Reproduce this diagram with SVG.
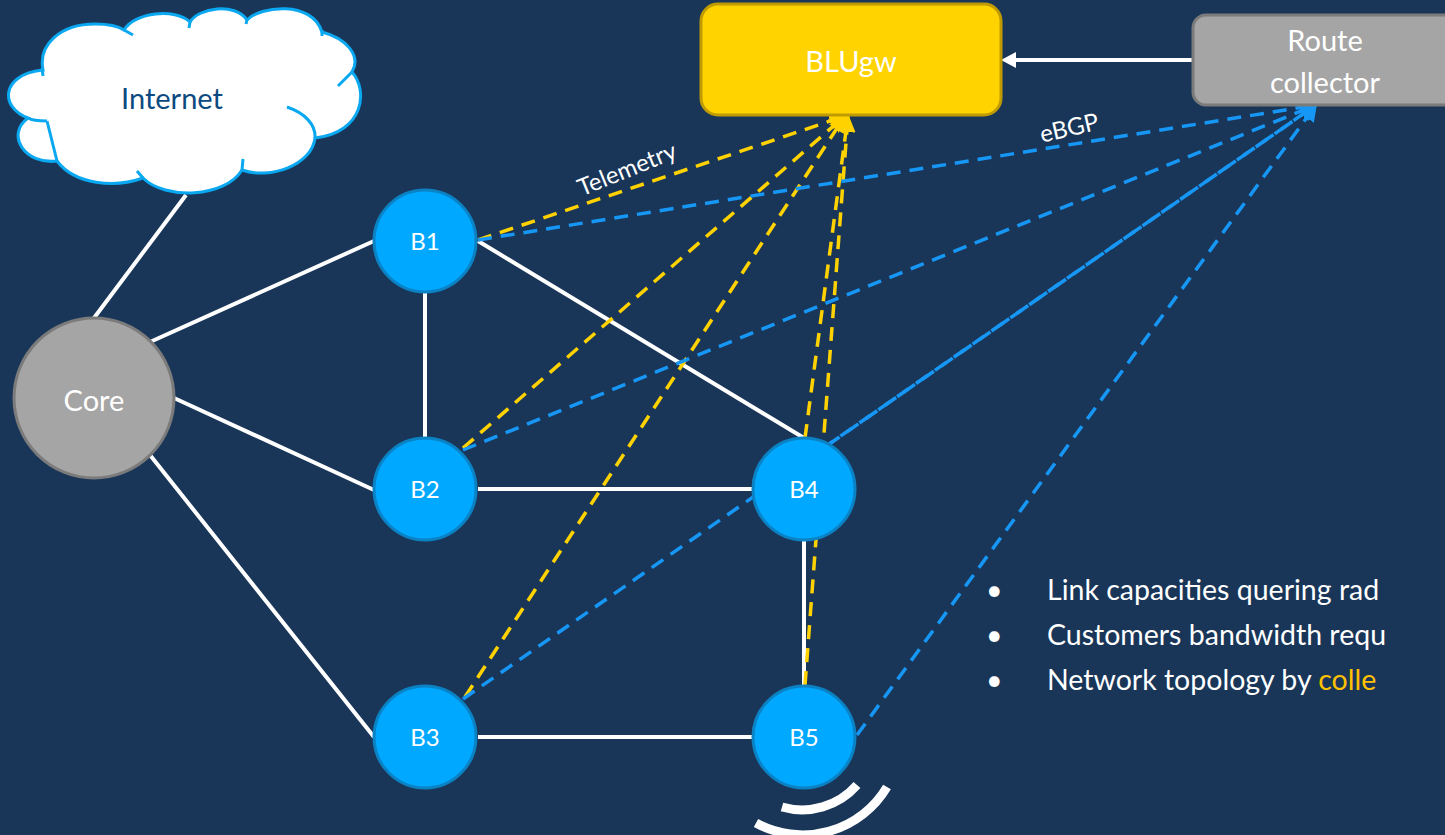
<svg xmlns="http://www.w3.org/2000/svg" width="1445" height="835" viewBox="0 0 1445 835">
<style>
text{font-family:"Lato","Carlito","Liberation Sans",sans-serif;fill:#fff}
.big{font-size:29px;text-anchor:middle}
.b{font-size:24px;text-anchor:middle}
.li{font-size:28.5px}
.w{stroke:#fff;stroke-width:4;fill:none}
.y{stroke:#ffd200;stroke-width:3.5;stroke-dasharray:14 9;fill:none}
.bl{stroke:#1797f5;stroke-width:3.5;stroke-dasharray:14 9;fill:none}
.n{fill:#00a8ff;stroke:#0a82c4;stroke-width:3}
.cl{fill:none;stroke:#0aa8f0;stroke-width:3}
</style>
<defs>
<marker id="ay" viewBox="0 0 10 10" refX="9" refY="5" markerWidth="5" markerHeight="5" orient="auto-start-reverse" markerUnits="strokeWidth"><path d="M0 0L10 5L0 10Z" fill="#ffd200"/></marker>
<marker id="ab" viewBox="0 0 10 10" refX="9" refY="5" markerWidth="5" markerHeight="5" orient="auto-start-reverse" markerUnits="strokeWidth"><path d="M0 0L10 5L0 10Z" fill="#1797f5"/></marker>
<marker id="aw" viewBox="0 0 10 10" refX="9" refY="5" markerWidth="4" markerHeight="4" orient="auto" markerUnits="strokeWidth"><path d="M0 0L10 5L0 10Z" fill="#fff"/></marker>
</defs>
<rect width="1445" height="835" fill="#193659"/>
<g id="connectors">
<path class="w" d="M186 195L94 318M374 241L150 342M374 490L174 398M374 737L150 455M425 292V438M478 241L804 438M478 489H752M478 737H752M804 540V685"/>
<path class="y" marker-end="url(#ay)" d="M478 240L845 116"/>
<path class="y" marker-end="url(#ay)" d="M463 448L845 116"/>
<path class="y" marker-end="url(#ay)" d="M465 697L845 116"/>
<path class="y" marker-end="url(#ay)" d="M805 438L848 116"/>
<path class="y" marker-end="url(#ay)" d="M805 685L848 116"/>
<path class="bl" marker-end="url(#ab)" d="M478 240L1316 105"/>
<path class="bl" marker-end="url(#ab)" d="M463 450L1316 105"/>
<path class="bl" marker-end="url(#ab)" d="M463 699L1316 105"/>
<path class="bl" marker-end="url(#ab)" d="M828 445L1316 105"/>
<path class="bl" marker-end="url(#ab)" d="M857 735L1316 105"/>
<path d="M1193 60H1005" stroke="#fff" stroke-width="4" fill="none"/>
<path d="M1001 60L1016 52V68Z" fill="#fff"/>
</g>
<g id="blugw"><rect x="701" y="4" width="300" height="111" rx="17" fill="#ffd300" stroke="#bf9b00" stroke-width="3"/><text class="big" x="851" y="72">BLUgw</text></g>
<g id="collector"><rect x="1193" y="15" width="270" height="90" rx="13" fill="#a5a5a5" stroke="#7b7b7b" stroke-width="3"/><text class="big" x="1325" y="51">Route</text><text class="big" x="1325" y="93">collector</text></g>
<g id="internet">
<path d="M43 70C38 45 60 24 95 24C108 24 118 26 124 30C135 12 175 8 190 22C198 8 235 2 247 20C260 6 312 0 322 32C345 38 362 55 352 72C368 90 365 132 315 138C312 165 270 180 242 170C225 198 165 200 143 178C115 188 75 185 57 161C25 165 5 135 28 118C0 108 0 75 42 70Z" fill="#fff" stroke="#0aa8f0" stroke-width="3"/>
<path class="cl" d="M42 68L43 76M124 30L133 35M190 22L189 28M247 20L246 24M322 30L322 36M352 72L338 86M287 107C305 113 316 125 315 138M242 170L243 159M143 178L137 171M57 161L47 121M28 118C33 121 40 121 47 121M143 178L137 171"/>
<text class="big" x="172" y="109" style="fill:#0b4a80">Internet</text>
</g>
<g id="core"><circle cx="94" cy="398" r="80" fill="#a5a5a5" stroke="#7b7b7b" stroke-width="3"/><text class="big" x="94" y="411">Core</text></g>
<g id="b1"><circle class="n" cx="425" cy="241" r="51"/><text class="b" x="425" y="250">B1</text></g>
<g id="b2"><circle class="n" cx="425" cy="489" r="51"/><text class="b" x="425" y="498">B2</text></g>
<g id="b3"><circle class="n" cx="425" cy="737" r="51"/><text class="b" x="425" y="746">B3</text></g>
<g id="b4"><circle class="n" cx="804" cy="489" r="51"/><text class="b" x="804" y="498">B4</text></g>
<g id="b5"><circle class="n" cx="804" cy="737" r="51"/><text class="b" x="804" y="746">B5</text></g>
<g id="wifi" fill="none" stroke="#fff" stroke-width="9"><path d="M782 807A73 73 0 0 0 857 785"/><path d="M756 823A98 98 0 0 0 887 787"/></g>
<text x="0" y="0" transform="translate(630 177) rotate(-22)" font-size="24" text-anchor="middle">Telemetry</text>
<text x="0" y="0" transform="translate(1071 136) rotate(-13)" font-size="24" text-anchor="middle">eBGP</text>
<g id="notes" class="li">
<text class="li" x="986" y="600">•</text><text class="li" x="1047" y="600">Link capacities quering rad</text>
<text class="li" x="986" y="645">•</text><text class="li" x="1047" y="645">Customers bandwidth requ</text>
<text class="li" x="986" y="690">•</text><text class="li" x="1047" y="690">Network topology by <tspan style="fill:#ffc000">colle</tspan></text>
</g>
</svg>
